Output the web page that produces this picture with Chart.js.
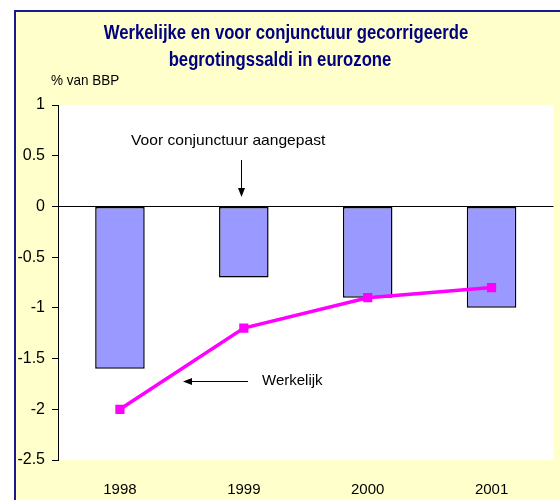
<!DOCTYPE html>
<html>
<head>
<meta charset="utf-8">
<script src="https://cdn.jsdelivr.net/npm/chart.js@4"></script>
<style>
  html, body { margin: 0; padding: 0; background: #fff; }
  #wrap { position: relative; width: 560px; height: 500px; }
</style>
</head>
<body>
<div id="wrap"><canvas id="chart" width="560" height="500"></canvas></div>
<script>
// Data
const years = ['1998', '1999', '2000', '2001'];
const adjusted = [-1.6, -0.7, -0.9, -1.0];   // voor conjunctuur aangepast
const actual = [-2.0, -1.2, -0.9, -0.8];     // werkelijk
const yTicks = [1, 0.5, 0, -0.5, -1, -1.5, -2, -2.5];

const FONT = '"Liberation Sans", Arial, sans-serif';

// draw text squeezed horizontally (reference uses a narrow face)
function narrowText(ctx, text, x, y, sx) {
  ctx.save();
  ctx.translate(x, y);
  ctx.scale(sx, 1);
  ctx.fillText(text, 0, 0);
  ctx.restore();
}

// Background, frame, title and annotations
const decor = {
  id: 'decor',
  beforeDraw(chart) {
    const ctx = chart.ctx;
    const a = chart.chartArea;
    ctx.save();
    ctx.fillStyle = '#fff';
    ctx.fillRect(0, 0, chart.width, chart.height);
    ctx.fillStyle = '#FFFFCC';
    ctx.fillRect(14, 10, chart.width - 14, chart.height - 10);
    ctx.strokeStyle = '#1a1a8c';
    ctx.lineWidth = 2;
    ctx.beginPath();
    ctx.moveTo(15, chart.height);
    ctx.lineTo(15, 11);
    ctx.lineTo(chart.width, 11);
    ctx.stroke();
    ctx.fillStyle = '#fff';
    ctx.fillRect(a.left, a.top, a.right - a.left, a.bottom - a.top);
    ctx.restore();
  },
  afterDraw(chart) {
    const ctx = chart.ctx;
    ctx.save();
    ctx.textBaseline = 'middle';
    ctx.textAlign = 'center';
    ctx.fillStyle = '#000080';
    ctx.font = 'bold 20px ' + FONT;
    narrowText(ctx, 'Werkelijke en voor conjunctuur gecorrigeerde', 286, 33, 0.835);
    narrowText(ctx, 'begrotingssaldi in eurozone', 280, 60, 0.835);

    ctx.fillStyle = '#000';
    ctx.textAlign = 'left';
    ctx.font = '15px ' + FONT;
    narrowText(ctx, '% van BBP', 51, 81, 0.9);
    narrowText(ctx, 'Voor conjunctuur aangepast', 131, 141, 1.04);
    ctx.fillText('Werkelijk', 262, 381);

    ctx.strokeStyle = '#000';
    ctx.lineWidth = 1;
    // down arrow
    ctx.beginPath();
    ctx.moveTo(241.5, 160);
    ctx.lineTo(241.5, 196);
    ctx.stroke();
    ctx.beginPath();
    ctx.moveTo(241.5, 197);
    ctx.lineTo(238, 188);
    ctx.lineTo(245, 188);
    ctx.closePath();
    ctx.fill();
    // left arrow
    ctx.beginPath();
    ctx.moveTo(184, 381.5);
    ctx.lineTo(248, 381.5);
    ctx.stroke();
    ctx.beginPath();
    ctx.moveTo(183, 381.5);
    ctx.lineTo(192, 378);
    ctx.lineTo(192, 385);
    ctx.closePath();
    ctx.fill();
    ctx.restore();
  }
};

new Chart(document.getElementById('chart').getContext('2d'), {
  type: 'bar',
  data: {
    labels: years,
    datasets: [
      {
        type: 'line',
        label: 'Werkelijk',
        data: actual,
        borderColor: '#FF00FF',
        backgroundColor: '#FF00FF',
        borderWidth: 3.5,
        pointStyle: 'rect',
        pointRadius: 6.5,
        pointBorderWidth: 0,
        tension: 0,
        order: 0
      },
      {
        label: 'Voor conjunctuur aangepast',
        data: adjusted,
        backgroundColor: '#9999FF',
        borderColor: '#000',
        borderWidth: 1.5,
        borderSkipped: false,
        categoryPercentage: 1,
        barPercentage: 0.4,
        order: 1
      }
    ]
  },
  options: {
    responsive: false,
    animation: false,
    layout: { padding: { left: 0, right: 5, top: 105, bottom: 0 } },
    plugins: {
      legend: { display: false },
      title: { display: false },
      tooltip: { enabled: false }
    },
    scales: {
      x: {
        grid: { display: false },
        border: { display: false },
        ticks: { color: '#000', font: { family: FONT, size: 15 }, padding: 13 },
        afterFit(scale) { scale.height = 40; }
      },
      y: {
        min: -2.5,
        max: 1,
        afterBuildTicks(scale) { scale.ticks = yTicks.map(v => ({ value: v })); },
        ticks: {
          color: '#000',
          font: { family: FONT, size: 16 },
          padding: 7,
          callback: v => String(v)
        },
        grid: {
          color: ctx => (ctx.tick && ctx.tick.value === 0 ? '#000' : 'rgba(0,0,0,0)'),
          tickColor: '#000',
          tickLength: 6,
          lineWidth: 1
        },
        border: { display: true, color: '#000', width: 1 },
        afterFit(scale) { scale.width = 58; }
      }
    }
  },
  plugins: [decor]
});
</script>
</body>
</html>
